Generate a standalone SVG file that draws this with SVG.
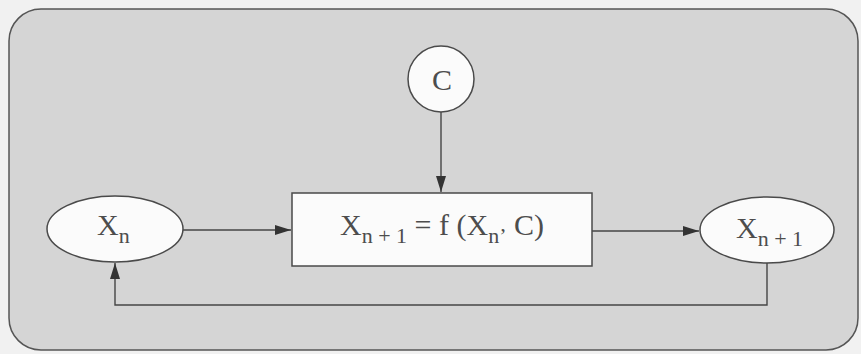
<svg xmlns="http://www.w3.org/2000/svg" width="861" height="354" viewBox="0 0 861 354">
<style>
.node{fill:#fbfbfb;stroke:#4a4a4a;stroke-width:1.5}
.lbl{font-family:"Liberation Serif","Times New Roman",serif;font-size:30px;fill:#4d4d4d}
.sub{font-size:22px}
.edge{fill:none;stroke:#454545;stroke-width:1.4}
</style>
<defs>
<marker id="ah" viewBox="0 0 16 10" refX="16" refY="5" markerWidth="16" markerHeight="10" markerUnits="userSpaceOnUse" orient="auto">
<path d="M0,0 L16,5 L0,10 Z" fill="#333"/>
</marker>
</defs>
<rect width="861" height="354" fill="#f1f1f1"/>
<rect id="frame" x="9" y="9" width="849" height="341" rx="32" fill="#d5d5d5" stroke="#555" stroke-width="1.5"/>
<g id="connectors">
<line class="edge" x1="441" y1="112" x2="441" y2="192" marker-end="url(#ah)"/>
<line class="edge" x1="183" y1="230" x2="291" y2="230" marker-end="url(#ah)"/>
<line class="edge" x1="592" y1="231" x2="699" y2="231" marker-end="url(#ah)"/>
<polyline class="edge" points="767,263 767,305 115,305 115,263" marker-end="url(#ah)"/>
</g>
<g id="node-c">
<circle class="node" cx="441" cy="79" r="33"/>
<text class="lbl" x="442" y="90" text-anchor="middle">C</text>
</g>
<g id="node-f">
<rect class="node" x="292" y="193" width="300" height="73"/>
<text class="lbl" x="340" y="235">X<tspan class="sub" dy="8">n + 1</tspan><tspan dy="-8"> = f (X</tspan><tspan class="sub" dy="8">n’</tspan><tspan dy="-8"> C)</tspan></text>
</g>
<g id="node-xn">
<ellipse class="node" cx="115" cy="229" rx="68" ry="33"/>
<text class="lbl" x="97" y="235">X<tspan class="sub" dy="8">n</tspan></text>
</g>
<g id="node-xn1">
<ellipse class="node" cx="767" cy="230" rx="67" ry="33"/>
<text class="lbl" x="736" y="238">X<tspan class="sub" dy="8">n + 1</tspan></text>
</g>
</svg>
